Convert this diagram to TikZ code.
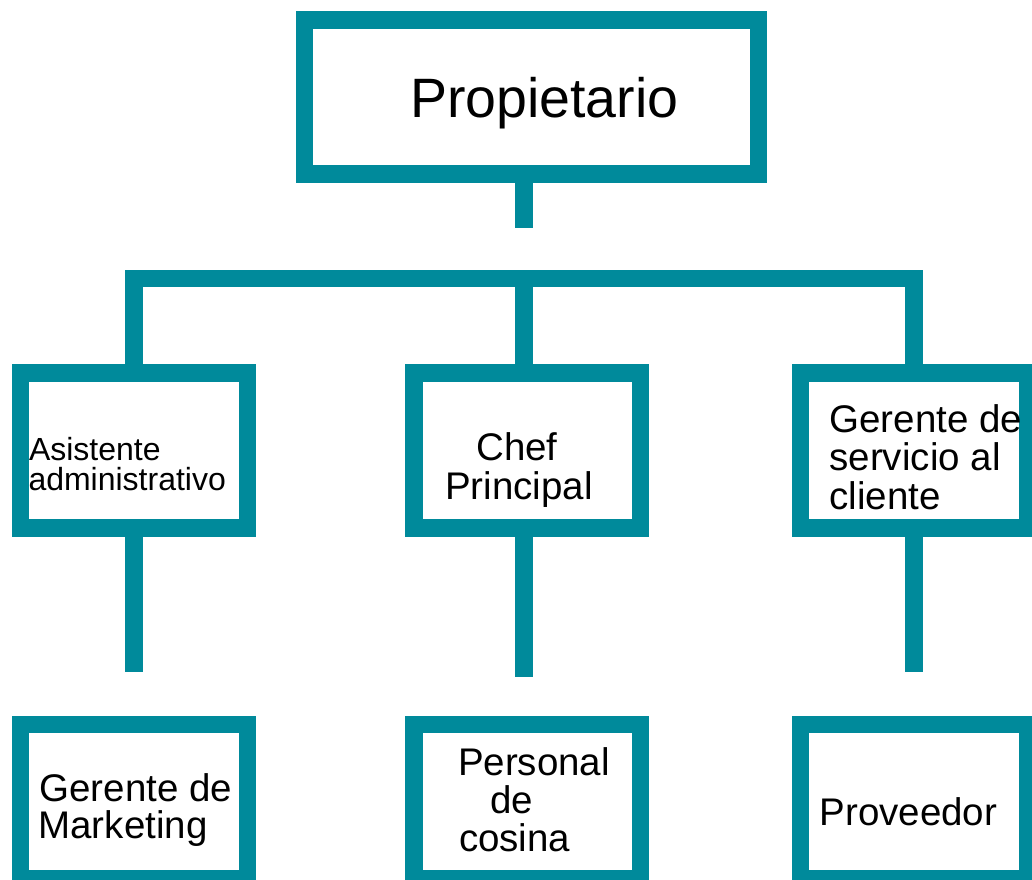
\documentclass[tikz,border=0pt]{standalone}
\usepackage{fontspec}
\setmainfont{Liberation Sans}
\definecolor{teal1}{RGB}{0,138,155}
\begin{document}
\begin{tikzpicture}[x=1pt,y=-1pt,
  boxst/.style={draw=teal1, line width=17.5pt, inner sep=0pt, outer sep=0pt},
  link/.style={draw=teal1, line width=17.5pt, line join=miter},
  bigtxt/.style={font=\fontsize{55.5}{55.5}\selectfont, inner sep=0pt, outer sep=0pt, anchor=base west},
  midtxt/.style={font=\fontsize{38.5}{38.5}\selectfont, inner sep=0pt, outer sep=0pt, anchor=base west},
  midctr/.style={font=\fontsize{38.5}{38.5}\selectfont, inner sep=0pt, outer sep=0pt, anchor=base},
  smalltxt/.style={font=\fontsize{32}{32}\selectfont, inner sep=0pt, outer sep=0pt, anchor=base west}]
\useasboundingbox (0,0) rectangle (1032,879);

% boxes
\node[boxst, minimum width=454.1pt, minimum height=154.2pt] (top) at (531.5,96.85) {};
\node[boxst, minimum width=226.8pt, minimum height=154.9pt] (ml) at (133.85,450.5) {};
\node[boxst, minimum width=226.8pt, minimum height=154.9pt] (mm) at (527.15,450.5) {};
\node[boxst, minimum width=227pt, minimum height=154.9pt] (mr) at (913.95,450.5) {};
\node[boxst, minimum width=226.8pt, minimum height=154.5pt] (bl) at (133.85,801.5) {};
\node[boxst, minimum width=226.8pt, minimum height=154.5pt] (bm) at (527.15,801.5) {};
\node[boxst, minimum width=227pt, minimum height=154.5pt] (br) at (913.95,801.5) {};

% connector points
\coordinate (bar) at (524,278.65);
\coordinate (stubend) at (524,227.7);
\coordinate (le) at (133.85,671.7);
\coordinate (me) at (524,676.7);
\coordinate (re) at (913.95,671.7);

% connectors
\draw[link] (top.south -| bar) -- (stubend);
\draw[link] (ml.north) |- (bar) -| (mr.north);
\draw[link] (bar) -- (bar |- mm.north);
\draw[link] (ml.south) -- (le);
\draw[link] (bar |- mm.south) -- (me);
\draw[link] (mr.south) -- (re);

% texts
\node[bigtxt] (tprop) at (410,117.7) {Propietario};
\node[smalltxt] (tasis1) at (29,460) {Asistente};
\node[smalltxt] (tasis2) at (28.5,490.7) {administrativo};
\node[midctr] (tchef1) at (517,460.7) {Chef};
\node[midctr] (tchef2) at (519,499.3) {Principal};
\node[midtxt] (tger1) at (829.5,432) {Gerente de};
\node[midtxt] (tger2) at (829.5,470.7) {servicio al};
\node[midtxt] (tger3) at (829.5,509.4) {cliente};
\node[midtxt] (tmkt1) at (39.5,801) {Gerente de};
\node[midtxt] (tmkt2) at (38.5,838.3) {Marketing};
\node[midtxt] (tper1) at (458,775) {Personal};
\node[midtxt] (tper2) at (490,813.3) {de};
\node[midtxt] (tper3) at (459,851.7) {cosina};
\node[midtxt] (tprov) at (819.5,825) {Proveedor};
\end{tikzpicture}
\end{document}
